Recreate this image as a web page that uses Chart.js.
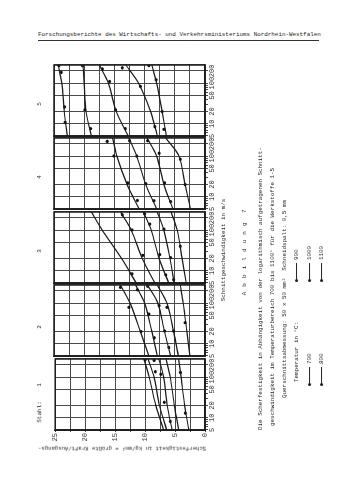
<!DOCTYPE html>
<html><head><meta charset="utf-8">
<script src="https://cdn.jsdelivr.net/npm/chart.js@4.4.0/dist/chart.umd.min.js"></script>
<style>
html,body{margin:0;padding:0;background:#fff;}
body{width:353px;height:500px;position:relative;overflow:hidden;font-family:"Liberation Mono","DejaVu Sans Mono",monospace;color:#2a2a2a;}
.t{position:absolute;white-space:nowrap;line-height:1;}
#fig{position:absolute;left:0;top:0;width:460px;height:240px;transform-origin:0 0;transform:translate(0px,460px) rotate(-90deg);}
#fig canvas{position:absolute;}
.ln{display:inline-block;width:17px;height:0;border-top:1.2px solid #222;vertical-align:middle;margin-right:3px;}
.dot{display:inline-block;width:3px;height:3px;border-radius:50%;background:#222;vertical-align:middle;margin-right:-1px;}
</style></head><body>
<div id="fig"></div>
<script>
// ---- data ----
const temperatures = [700, 800, 900, 1000, 1100];
const speedTicks = [5, 10, 20, 50, 100, 200];
const speedMinorTicks = [6, 7, 8, 9, 30, 40, 60, 70, 80, 90];
const strengthTicks = [0, 5, 10, 15, 20, 25];
const strengthGrid = [0, 2.5, 5, 7.5, 10, 12.5, 15, 17.5, 20, 22.5, 25];
const curveSpeeds = [280, 100, 20, 5];

const stahl1Curves = [[10.2, 9.3, 8.2, 6.9], [9.5, 8.5, 7.6, 6.4], [7.7, 6.9, 6.3, 5.5], [6.5, 5.8, 5.1, 4.4], [4.4, 4.0, 3.4, 2.7]];
const stahl1PointSpeeds = [[270], [257, 136, 24], [118, 8.1], [], [130, 13]];
const stahl1PointValues = [[10.0], [8.5, 8.3, 6.8], [7.35, 5.8], [], [4.1, 3.3]];

const stahl2Curves = [[14.0, 12.4, 10.7, 9.3], [11.5, 10.0, 8.8, 7.9], [9.5, 7.8, 6.7, 5.7], [7.9, 6.3, 5.2, 4.4], [4.1, 3.6, 3.0, 2.5]];
const stahl2PointSpeeds = [[245, 79, 20], [214, 54, 14], [261, 87, 20.6, 8.1], [79, 20.6], [33]];
const stahl2PointValues = [[14.0, 12.6, 10.6], [11.2, 9.3, 8.4], [9.5, 7.6, 6.7, 6.0], [6.3, 5.2], [3.3]];

const stahl3Curves = [[18.8, 17.0, 13.8, 11.4], [14.0, 12.2, 10.4, 8.3], [10.2, 8.9, 7.6, 6.0], [7.9, 6.8, 5.8, 5.1], [5.6, 4.6, 3.8, 3.1]];
const stahl3PointSpeeds = [[8.4], [238, 101, 24], [251, 141, 25, 7.9], [106, 21, 6], [40]];
const stahl3PointValues = [[12.1], [13.7, 12.1, 10.3], [10.0, 9.15, 7.5, 6.5], [6.8, 5.7, 5.2], [4.1]];

const stahl4Curves = [[15.3, 14.6, 12.9, 10.9], [12.6, 11.3, 9.8, 8.0], [9.6, 8.0, 6.8, 5.3], [6.5, 4.3, 3.3, 2.4]];
const stahl4PointSpeeds = [[231, 101, 22, 8.1], [240, 100, 21, 8], [240, 118, 22, 7.6], [84, 20]];
const stahl4PointValues = [[16.2, 15.1, 12.8, 11.2], [12.5, 11.3, 9.8, 8.45], [9.5, 7.6, 6.7, 5.7], [4.1, 3.3]];

const stahl5Curves = [[24.3, 23.7, 23.3, 22.8], [20.2, 20.0, 19.7, 18.8], [17.5, 16.0, 14.7, 12.7], [13.1, 11.0, 9.0, 7.9], [8.8, 8.0, 7.1, 6.4]];
const stahl5PointSpeeds = [[270, 184, 26, 10.8], [270, 22, 7.6], [223, 110, 22, 7.6], [238, 83, 8.5], [270, 121, 20, 7.3]];
const stahl5PointValues = [[24.2, 23.8, 23.25, 23.15], [20.3, 19.9, 18.95], [17.0, 15.8, 14.8, 13.2], [13.7, 10.7, 8.3], [9.3, 8.1, 7.1, 6.8]];

const panelLabels = ['1', '2', '3', '4', '5'];

// ---- drawing ----
const MONO = '"Liberation Mono","DejaVu Sans Mono",monospace';
Chart.defaults.font.family = MONO;
const GRID = '#4a4a4a';

const framePlugin = {
  id: 'frame',
  afterDraw(chart) {
    const a = chart.chartArea, c = chart.ctx;
    c.save(); c.strokeStyle = '#1e1e1e'; c.lineWidth = 1.5;
    c.strokeRect(a.left, a.top, a.right - a.left, a.bottom - a.top);
    c.restore();
  }
};

function makePanel(k, curves, ptSpeeds, ptVals) {
  const showY = k === 0;
  const fig = document.getElementById('fig');
  const chartLeft = 30 + Math.round(73.5 * k);
  const chartW = 71, chartH = 153;
  const yw = showY ? 16 : 0;
  const padL = showY ? 0 : 6;
  const padR = 5, xh = 18;
  const cv = document.createElement('canvas');
  const W = padL + yw + chartW + padR, H = 2 + chartH + xh;
  cv.width = W; cv.height = H;
  cv.style.left = (chartLeft - padL - yw) + 'px';
  cv.style.top = '50px';
  fig.appendChild(cv);
  const datasets = [];
  curves.forEach((cur, i) => {
    datasets.push({
      type: 'line', label: temperatures[i] + ' °C',
      data: curveSpeeds.map((v, j) => ({x: v, y: cur[j]})),
      borderColor: '#1a1a1a', borderWidth: 1.2, pointRadius: 0, tension: 0.3, fill: false
    });
    datasets.push({
      type: 'scatter', label: temperatures[i] + ' °C Messwerte',
      data: ptSpeeds[i].map((v, j) => ({x: v, y: ptVals[i][j]})),
      pointRadius: 1.6, pointBackgroundColor: '#111', pointBorderWidth: 0, showLine: false
    });
  });
  const allSpeeds = [...speedTicks, ...speedMinorTicks, 280].sort((a, b) => a - b);
  new Chart(cv, {
    type: 'scatter',
    data: { datasets },
    options: {
      responsive: false, animation: false, devicePixelRatio: 1,
      layout: { padding: { left: padL, right: padR, top: 2, bottom: 0 } },
      plugins: { legend: { display: false }, tooltip: { enabled: false } },
      scales: {
        x: {
          type: 'logarithmic', min: 5, max: 280,
          afterBuildTicks: s => { s.ticks = allSpeeds.map(v => ({ value: v })); },
          afterFit: s => { s.height = xh; },
          grid: {
            color: c => (c.tick && (speedTicks.includes(c.tick.value) || c.tick.value === 280)) ? GRID : 'rgba(0,0,0,0)',
            tickColor: c => (c.tick && c.tick.value === 280) ? 'rgba(0,0,0,0)' : GRID,
            lineWidth: 1, tickLength: 3, drawTicks: true
          },
          border: { display: true, color: '#1e1e1e', width: 1.5 },
          ticks: {
            autoSkip: false, maxRotation: 0, minRotation: 0, padding: 0,
            font: { size: 7 }, color: '#333',
            callback: v => speedTicks.includes(v) ? String(v) : ''
          }
        },
        y: {
          min: 0, max: 25,
          afterBuildTicks: s => { s.ticks = strengthGrid.map(v => ({ value: v })); },
          afterFit: s => { s.width = yw; },
          grid: { color: GRID, lineWidth: 1, drawTicks: showY, tickLength: 2 },
          border: { display: true, color: '#1e1e1e', width: 1.5 },
          ticks: {
            display: showY, padding: 1, font: { size: 7 }, color: '#333',
            callback: v => strengthTicks.includes(v) ? String(v) : ''
          }
        }
      }
    },
    plugins: [framePlugin]
  });
}

makePanel(0, stahl1Curves, stahl1PointSpeeds, stahl1PointValues);
makePanel(1, stahl2Curves, stahl2PointSpeeds, stahl2PointValues);
makePanel(2, stahl3Curves, stahl3PointSpeeds, stahl3PointValues);
makePanel(3, stahl4Curves, stahl4PointSpeeds, stahl4PointValues);
makePanel(4, stahl5Curves, stahl5PointSpeeds, stahl5PointValues);

// ---- text ----
function el(html, size) {
  const d = document.createElement('div');
  d.className = 't'; d.innerHTML = html; d.style.fontSize = size + 'px';
  document.body.appendChild(d); return d;
}
function vStart(html, x, yStart, size) {
  const d = el(html, size);
  d.style.left = x + 'px'; d.style.top = yStart + 'px';
  d.style.transformOrigin = '0 0';
  d.style.transform = 'rotate(-90deg) translateY(-50%)';
  return d;
}
function vCenter(html, cx, cy, size, angle) {
  const d = el(html, size);
  d.style.left = cx + 'px'; d.style.top = cy + 'px';
  d.style.transformOrigin = '50% 50%';
  d.style.transform = 'translate(-50%,-50%) rotate(' + (angle || -90) + 'deg)';
  return d;
}

const hdr = el('Forschungsberichte des Wirtschafts- und Verkehrsministeriums Nordrhein-Westfalen', 5.9);
hdr.style.left = '38px'; hdr.style.top = '32px'; hdr.style.color = '#222';
const ul = document.createElement('div');
ul.style.cssText = 'position:absolute;left:38px;top:40px;width:281px;height:1px;background:#333;';
document.body.appendChild(ul);

// panel labels
vCenter('Stahl:', 40, 412, 6);
const numY = [385, 327, 251, 177, 104];
panelLabels.forEach((p, i) => vCenter(p, 40, numY[i], 6));

// axis titles
vCenter('Scherfestigkeit in kg/mm² = größte Kraft/Ausgangs-', 122, 448, 5.6, 180);
vCenter('Schnittgeschwindigkeit in m/s', 224, 250, 5.9);

// caption
const abb = vCenter('A b b i l d u n g &nbsp;7', 245, 252, 5.9);
abb.style.letterSpacing = '0.8px';
vStart('Die Scherfestigkeit in Abhängigkeit von der logarithmisch aufgetragenen Schnitt-', 261, 430, 5.9);
vStart('geschwindigkeit im Temperaturbereich 700 bis 1100° für die Werkstoffe 1-5', 273, 426, 5.9);
vStart('Querschnittsabmessung: 50 x 50 mm² &nbsp;Schneidspalt: 0,5 mm', 285, 398, 5.9);
vStart('Temperatur in °C:', 297, 382, 5.9);

const legendX = [310, 322, 297, 310, 322];
const legendY = [386, 386, 282, 282, 282];
temperatures.forEach((t, i) => {
  vStart('<span class="dot"></span><span class="ln"></span>' + t, legendX[i], legendY[i], 5.9);
});
</script>
</body></html>
